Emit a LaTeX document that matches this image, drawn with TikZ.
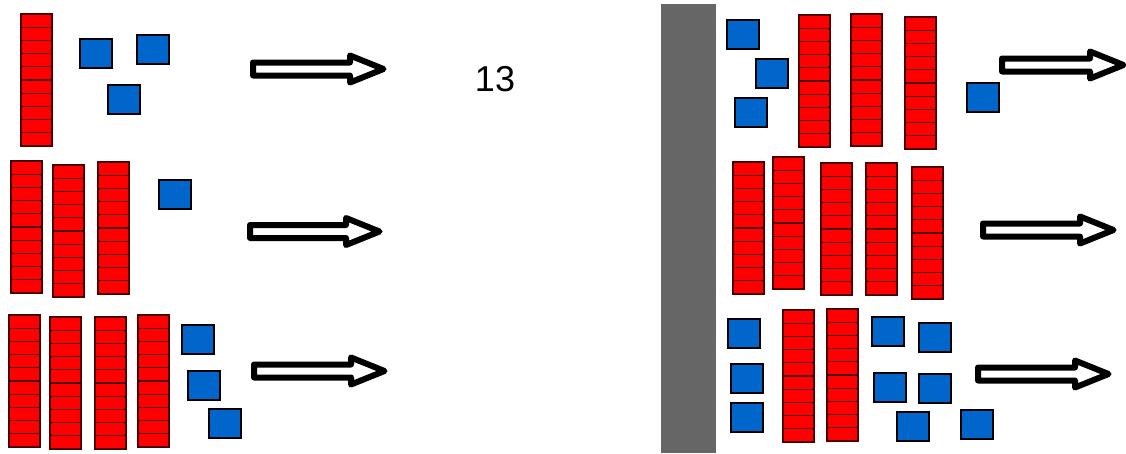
\documentclass[tikz,border=0pt]{standalone}
\usepackage{fontspec}
\setmainfont{Liberation Sans}
\usepackage{tikz}

\definecolor{rodred}{HTML}{FF0000}
\definecolor{unitblue}{HTML}{0066CC}
\definecolor{wallgray}{HTML}{666666}

\tikzset{
  rodcell/.style={fill=rodred, draw=black!70!red, line width=1.3pt},
  unitcube/.style={fill=unitblue, draw=black, line width=1.2pt},
  arrowline/.style={draw=black, fill=white, line width=6pt, line join=round}
}

% ten-rod: top left corner
\newcommand{\tenrod}[2]{%
  \foreach \k in {0,...,9}
    \draw[rodcell] (#1,#2+13.2*\k) rectangle (#1+31,#2+13.2*\k+13.2);
}
% one-cube: top left corner
\newcommand{\onecube}[2]{%
  \draw[unitcube] (#1,#2) rectangle (#1+32,#2+29);
}
% hollow arrow: start x, middle y, tip x
\newcommand{\bigarrow}[3]{%
  \draw[arrowline] (#1+3,#2-6.5) -- (#3-37,#2-6.5) -- (#3-37,#2-13.5)
    -- (#3-3.5,#2) -- (#3-37,#2+13.5) -- (#3-37,#2+6.5) -- (#1+3,#2+6.5) -- cycle;
}

\begin{document}
\begin{tikzpicture}[x=1pt,y=-1pt]
    \useasboundingbox (0,0) rectangle (1126,453);

    % left side
    \tenrod{21}{14}
    \onecube{80}{39}
    \onecube{137}{35}
    \onecube{108}{85}
    \bigarrow{250}{69}{387}
    \node[font=\fontsize{36}{40}\selectfont] (num) at (495,79) {13};

    \tenrod{11}{161}
    \tenrod{53}{165}
    \tenrod{98}{162}
    \onecube{159}{180}
    \bigarrow{247}{231.5}{383}

    \tenrod{9}{315}
    \tenrod{50}{317}
    \tenrod{95}{317}
    \tenrod{138}{315}
    \onecube{182}{325}
    \onecube{188}{371}
    \onecube{209}{409}
    \bigarrow{251}{371}{388}

    % wall
    \fill[wallgray] (661,4) rectangle (716,453);

    % right side
    \onecube{727}{20}
    \onecube{756}{59}
    \onecube{735}{98}
    \tenrod{799}{15}
    \tenrod{851}{14}
    \tenrod{905}{17}
    \onecube{967}{83}
    \bigarrow{999}{65}{1127}

    \tenrod{733}{162}
    \tenrod{773}{157}
    \tenrod{821}{163}
    \tenrod{866}{163}
    \tenrod{912}{167}
    \bigarrow{980}{230}{1117}

    \onecube{728}{319}
    \onecube{731}{364}
    \onecube{731}{403}
    \tenrod{783}{310}
    \tenrod{827}{309}
    \onecube{872}{317}
    \onecube{919}{323}
    \onecube{874}{373}
    \onecube{919}{374}
    \onecube{897}{412}
    \onecube{961}{410}
    \bigarrow{975}{374}{1112}
\end{tikzpicture}
\end{document}
